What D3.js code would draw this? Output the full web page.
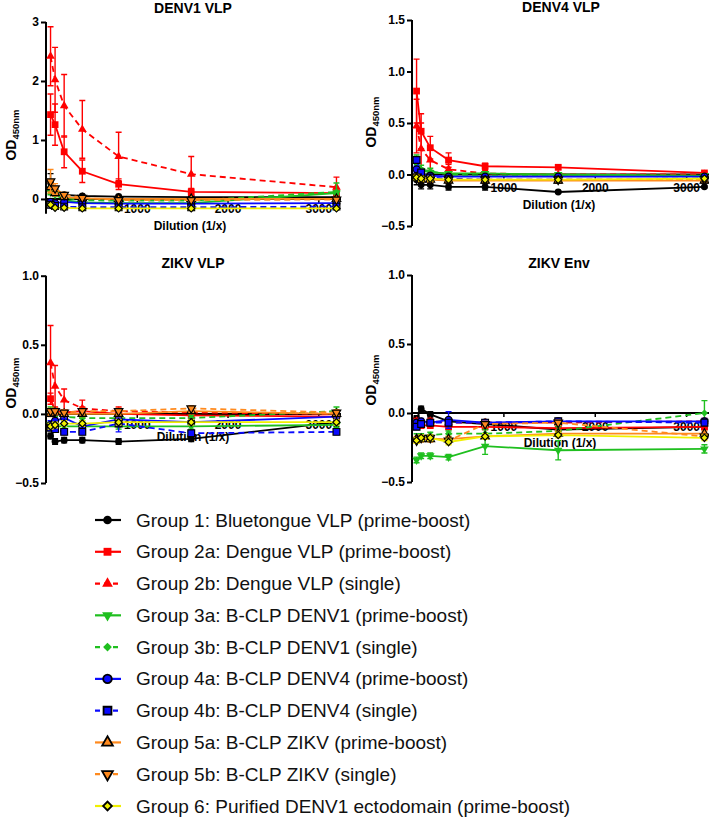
<!DOCTYPE html>
<html><head><meta charset="utf-8">
<script src="https://cdn.jsdelivr.net/npm/d3@7"></script>
<style>
body{margin:0;background:#fff}
svg{display:block}
text{font-family:"Liberation Sans",Arial,sans-serif}
</style>
</head><body>
<svg id="chart" width="709" height="818"></svg>
<script>
// ---------------- DATA ----------------
const dilutions = [50, 100, 200, 400, 800, 1600, 3200];
const groupNames = [
  "Group 1: Bluetongue VLP (prime-boost)",
  "Group 2a: Dengue VLP (prime-boost)",
  "Group 2b: Dengue VLP (single)",
  "Group 3a: B-CLP DENV1 (prime-boost)",
  "Group 3b: B-CLP DENV1 (single)",
  "Group 4a: B-CLP DENV4 (prime-boost)",
  "Group 4b: B-CLP DENV4 (single)",
  "Group 5a: B-CLP ZIKV (prime-boost)",
  "Group 5b: B-CLP ZIKV (single)",
  "Group 6: Purified DENV1 ectodomain (prime-boost)"
];
const groupColors = ["#000000","#ff0000","#ff0000","#1fbf1f","#1fbf1f","#0a0aff","#0a0aff","#ff8a1e","#ff8a1e","#f0f000"];
const groupDashed = [false,false,true,false,true,false,true,false,true,false];
const groupMarkers = ["circle","square","triangle","triangleDown","diamond","circle","square","triangle","triangleDown","diamond"];
const groupOutlined = [false,false,false,false,false,true,true,true,true,true];

const panelTitles = ["DENV1 VLP","DENV4 VLP","ZIKV VLP","ZIKV Env"];
const xTickValues = [1000, 2000, 3000];
const yTicksDenv1 = [0, 1, 2, 3];
const yTicksDenv4 = [-0.5, 0.0, 0.5, 1.0, 1.5];
const yTicksZikvVlp = [-0.5, 0.0, 0.5, 1.0];
const yTicksZikvEnv = [-0.5, 0.0, 0.5, 1.0];

// OD450 means per group (rows) at each dilution (columns)
const denv1Vlp = [
  [0.28, 0.15, 0.07, 0.05, 0.04, 0.03, 0.03],
  [1.43, 1.26, 0.80, 0.47, 0.25, 0.12, 0.10],
  [2.42, 2.02, 1.58, 1.18, 0.72, 0.42, 0.20],
  [0.12, 0.08, -0.02, -0.06, -0.07, -0.07, 0.10],
  [0.15, 0.12, 0.02, -0.02, -0.03, -0.03, 0.12],
  [-0.05, -0.07, -0.05, -0.07, -0.08, -0.08, -0.07],
  [-0.10, -0.12, -0.13, -0.14, -0.14, -0.14, -0.13],
  [0.20, 0.10, 0.03, 0.01, 0.00, 0.00, 0.00],
  [0.30, 0.18, 0.07, 0.02, -0.02, -0.02, -0.01],
  [-0.10, -0.15, -0.15, -0.16, -0.16, -0.16, -0.16]
];
const denv1VlpErr = [
  [0.15, 0.06, 0.03, 0.02, 0.02, 0.02, 0.02],
  [0.35, 0.35, 0.27, 0.19, 0.09, 0.06, 0.05],
  [0.50, 0.55, 0.53, 0.49, 0.41, 0.30, 0.17],
  [0.05, 0.04, 0.03, 0.02, 0.02, 0.02, 0.03],
  [0.06, 0.05, 0.03, 0.02, 0.03, 0.03, 0.15],
  [0.03, 0.03, 0.02, 0.02, 0.02, 0.02, 0.02],
  [0.03, 0.03, 0.03, 0.02, 0.03, 0.03, 0.03],
  [0.08, 0.05, 0.03, 0.02, 0.02, 0.02, 0.02],
  [0.20, 0.08, 0.04, 0.02, 0.02, 0.02, 0.02],
  [0.03, 0.02, 0.02, 0.02, 0.02, 0.02, 0.02]
];
const denv4Vlp = [
  [-0.05, -0.10, -0.10, -0.12, -0.12, -0.17, -0.12],
  [0.81, 0.42, 0.26, 0.14, 0.08, 0.07, 0.015],
  [0.47, 0.25, 0.14, 0.05, 0.01, 0.00, 0.00],
  [0.10, 0.04, 0.02, 0.01, 0.01, 0.00, -0.01],
  [0.12, 0.05, 0.03, 0.00, -0.01, -0.01, -0.02],
  [0.05, 0.00, -0.01, -0.02, -0.02, -0.02, -0.02],
  [0.14, 0.02, -0.03, -0.04, -0.05, -0.05, -0.05],
  [-0.03, -0.05, -0.05, -0.06, -0.06, -0.06, -0.06],
  [-0.02, -0.04, -0.05, -0.05, -0.05, -0.05, -0.05],
  [-0.03, -0.04, -0.04, -0.05, -0.05, -0.05, -0.04]
];
const denv4VlpErr = [
  [0.05, 0.04, 0.04, 0.03, 0.03, 0.01, 0.01],
  [0.31, 0.17, 0.11, 0.07, 0.03, 0.02, 0.01],
  [0.26, 0.25, 0.10, 0.05, 0.03, 0.01, 0.01],
  [0.04, 0.02, 0.02, 0.01, 0.01, 0.01, 0.01],
  [0.07, 0.04, 0.03, 0.02, 0.01, 0.01, 0.01],
  [0.03, 0.02, 0.02, 0.01, 0.01, 0.01, 0.01],
  [0.03, 0.03, 0.02, 0.02, 0.01, 0.01, 0.01],
  [0.02, 0.02, 0.02, 0.01, 0.01, 0.01, 0.01],
  [0.02, 0.02, 0.02, 0.01, 0.01, 0.01, 0.01],
  [0.02, 0.02, 0.02, 0.01, 0.01, 0.01, 0.01]
];
const zikvVlp = [
  [-0.16, -0.20, -0.19, -0.19, -0.20, -0.18, -0.06],
  [0.11, 0.02, 0.01, 0.02, 0.00, -0.01, -0.02],
  [0.37, 0.20, 0.10, 0.04, 0.02, 0.01, 0.00],
  [-0.08, -0.09, -0.09, -0.09, -0.09, -0.09, -0.08],
  [0.02, 0.00, -0.02, -0.03, -0.03, -0.03, 0.02],
  [-0.08, -0.05, -0.03, -0.09, -0.04, -0.06, -0.02],
  [-0.10, -0.11, -0.13, -0.13, -0.07, -0.14, -0.13],
  [0.00, 0.01, 0.00, 0.00, 0.00, 0.02, 0.00],
  [0.02, 0.02, 0.01, 0.02, 0.02, 0.04, 0.01],
  [-0.09, -0.08, -0.07, -0.07, -0.06, -0.06, -0.06]
];
const zikvVlpErr = [
  [0.02, 0.02, 0.02, 0.02, 0.02, 0.02, 0.03],
  [0.04, 0.02, 0.02, 0.03, 0.02, 0.02, 0.02],
  [0.27, 0.15, 0.08, 0.06, 0.03, 0.02, 0.02],
  [0.02, 0.02, 0.02, 0.02, 0.02, 0.02, 0.02],
  [0.03, 0.02, 0.02, 0.02, 0.02, 0.02, 0.03],
  [0.03, 0.02, 0.02, 0.02, 0.02, 0.02, 0.02],
  [0.02, 0.02, 0.02, 0.02, 0.06, 0.02, 0.02],
  [0.02, 0.02, 0.02, 0.02, 0.02, 0.02, 0.02],
  [0.02, 0.02, 0.02, 0.02, 0.02, 0.02, 0.02],
  [0.02, 0.02, 0.02, 0.02, 0.02, 0.02, 0.02]
];
const zikvEnv = [
  [-0.04, 0.03, -0.01, -0.06, -0.08, -0.12, -0.10],
  [-0.08, -0.09, -0.09, -0.10, -0.10, -0.11, -0.10],
  [-0.06, -0.07, -0.06, -0.07, -0.07, -0.07, -0.06],
  [-0.34, -0.31, -0.31, -0.32, -0.24, -0.27, -0.26],
  [-0.18, -0.17, -0.16, -0.15, -0.15, -0.13, 0.00],
  [-0.07, -0.06, -0.07, -0.05, -0.07, -0.06, -0.06],
  [-0.10, -0.08, -0.07, -0.07, -0.07, -0.06, -0.07],
  [-0.19, -0.19, -0.19, -0.19, -0.17, -0.15, -0.15],
  [-0.20, -0.18, -0.18, -0.20, -0.08, -0.07, -0.17],
  [-0.20, -0.18, -0.18, -0.21, -0.17, -0.16, -0.18]
];
const zikvEnvErr = [
  [0.02, 0.02, 0.02, 0.02, 0.02, 0.02, 0.02],
  [0.02, 0.02, 0.02, 0.02, 0.02, 0.02, 0.02],
  [0.02, 0.02, 0.02, 0.02, 0.02, 0.02, 0.02],
  [0.02, 0.02, 0.02, 0.02, 0.06, 0.07, 0.03],
  [0.03, 0.02, 0.02, 0.02, 0.03, 0.03, 0.09],
  [0.02, 0.02, 0.02, 0.06, 0.02, 0.02, 0.02],
  [0.02, 0.02, 0.02, 0.02, 0.02, 0.02, 0.02],
  [0.02, 0.02, 0.02, 0.02, 0.02, 0.02, 0.02],
  [0.02, 0.02, 0.02, 0.02, 0.02, 0.02, 0.02],
  [0.02, 0.02, 0.02, 0.02, 0.02, 0.02, 0.02]
];

// ---------------- LAYOUT ----------------
const panels = [
  {title: panelTitles[0], values: denv1Vlp, errs: denv1VlpErr, yTicks: yTicksDenv1, yDomain: [-0.25, 3],
   xRange: [46, 341], yRange: [213.7, 22], titleX: 193, titleY: 13, tickLblOff: 15, xLblX: 190, xLblY: 230, yLblX: 16, yLblY: 135, yFmt: d3.format("d")},
  {title: panelTitles[1], values: denv4Vlp, errs: denv4VlpErr, yTicks: yTicksDenv4, yDomain: [-0.5, 1.5],
   xRange: [412, 709], yRange: [226, 20], titleX: 561, titleY: 12, tickLblOff: 18, xLblX: 559, xLblY: 209, yLblX: 376, yLblY: 122, yFmt: d3.format(".1f")},
  {title: panelTitles[2], values: zikvVlp, errs: zikvVlpErr, yTicks: yTicksZikvVlp, yDomain: [-0.5, 1],
   xRange: [46, 341], yRange: [483, 275.7], titleX: 193, titleY: 268, tickLblOff: 16, xLblX: 193, xLblY: 441, yLblX: 16, yLblY: 383, yFmt: d3.format(".1f")},
  {title: panelTitles[3], values: zikvEnv, errs: zikvEnvErr, yTicks: yTicksZikvEnv, yDomain: [-0.5, 1],
   xRange: [412, 709], yRange: [482, 275], titleX: 559, titleY: 268, tickLblOff: 18, xLblX: 560, xLblY: 447, yLblX: 376, yLblY: 380, yFmt: d3.format(".1f")}
];

const svg = d3.select("#chart");

function symbolPath(kind, size) {
  const s = kind === "circle" ? d3.symbolCircle
          : (kind === "square" || kind === "diamond") ? d3.symbolSquare
          : d3.symbolTriangle;
  return d3.symbol().type(s).size(size)();
}
function symbolRotate(kind) {
  if (kind === "diamond") return 45;
  if (kind === "triangleDown") return 180;
  return 0;
}
const plotMarkerSize = {circle: 38, square: 46, diamond: 26, triangle: 32, triangleDown: 32};
const legendMarkerSize = {circle: 58, square: 62, diamond: 38, triangle: 50, triangleDown: 50};

panels.forEach(p => {
  const x = d3.scaleLinear().domain([0, 3250]).range(p.xRange);
  const y = d3.scaleLinear().domain(p.yDomain).range(p.yRange);
  const g = svg.append("g");

  g.append("text").attr("x", p.titleX).attr("y", p.titleY).attr("text-anchor", "middle")
    .attr("font-size", 14).attr("font-weight", "bold").text(p.title);

  const yAxis = d3.axisLeft(y).tickValues(p.yTicks).tickFormat(p.yFmt).tickSize(5).tickPadding(2);
  const ya = g.append("g").attr("transform", `translate(${p.xRange[0]},0)`).call(yAxis);
  ya.select(".domain").attr("stroke", "#000").attr("stroke-width", 2).attr("d", `M0,${p.yRange[0]}V${p.yRange[1]}`);
  ya.selectAll(".tick line").attr("stroke", "#000").attr("stroke-width", 2);
  ya.selectAll(".tick text").attr("font-size", 12).attr("font-weight", "bold").attr("fill", "#000")
    .attr("font-family", "'Liberation Sans',Arial,sans-serif");

  const xAxis = d3.axisBottom(x).tickValues(xTickValues).tickFormat(d3.format("d")).tickSize(4).tickPadding(p.tickLblOff - 13);
  const xa = g.append("g").attr("transform", `translate(0,${y(0)})`).call(xAxis);
  xa.select(".domain").attr("stroke", "#000").attr("stroke-width", 2).attr("d", `M${p.xRange[0]},0H${p.xRange[1]}`);
  xa.selectAll(".tick line").attr("stroke", "#000").attr("stroke-width", 1.5);
  xa.selectAll(".tick text").attr("font-size", 12).attr("font-weight", "bold").attr("fill", "#000")
    .attr("font-family", "'Liberation Sans',Arial,sans-serif");

  g.append("text").attr("x", p.xLblX).attr("y", p.xLblY).attr("text-anchor", "middle")
    .attr("font-size", 12).attr("font-weight", "bold").text("Dilution (1/x)");

  const yl = g.append("text").attr("transform", `translate(${p.yLblX},${p.yLblY}) rotate(-90)`)
    .attr("text-anchor", "middle").attr("font-weight", "bold").attr("font-size", 14);
  yl.append("tspan").text("OD");
  yl.append("tspan").attr("font-size", 9.5).attr("dy", 3).text("450nm");

  const line = d3.line().x((d, i) => x(dilutions[i])).y(d => y(d));
  p.values.forEach((vals, gi) => {
    const col = groupColors[gi];
    const sg = g.append("g");
    sg.append("path").attr("d", line(vals)).attr("fill", "none").attr("stroke", col)
      .attr("stroke-width", 1.8).attr("stroke-dasharray", groupDashed[gi] ? "6,4" : null);
    vals.forEach((v, i) => {
      const e = p.errs[gi][i];
      const cx = x(dilutions[i]);
      const y1 = y(v + e), y2 = y(v - e);
      sg.append("path").attr("d", `M${cx},${y1}V${y2}M${cx-3},${y1}H${cx+3}M${cx-3},${y2}H${cx+3}`)
        .attr("stroke", col).attr("stroke-width", 1.4).attr("fill", "none");
    });
    const kind = groupMarkers[gi];
    vals.forEach((v, i) => {
      sg.append("path").attr("d", symbolPath(kind, plotMarkerSize[kind]))
        .attr("transform", `translate(${x(dilutions[i])},${y(v)}) rotate(${symbolRotate(kind)})`)
        .attr("fill", col)
        .attr("stroke", groupOutlined[gi] ? "#000" : "none")
        .attr("stroke-width", 1.2);
    });
  });
});

// ---------------- LEGEND ----------------
const ly = d3.scaleLinear().domain([0, groupNames.length - 1]).range([520, 806]);
const lg = svg.append("g");
groupNames.forEach((name, i) => {
  const yy = ly(i);
  const col = groupColors[i];
  lg.append("line").attr("x1", 95).attr("x2", 121).attr("y1", yy).attr("y2", yy)
    .attr("stroke", col).attr("stroke-width", 2.2).attr("stroke-dasharray", groupDashed[i] ? "5,4" : null);
  const kind = groupMarkers[i];
  lg.append("path").attr("d", symbolPath(kind, legendMarkerSize[kind]))
    .attr("transform", `translate(107.5,${yy}) rotate(${symbolRotate(kind)})`)
    .attr("fill", col).attr("stroke", groupOutlined[i] ? "#000" : "none").attr("stroke-width", 1.8);
  lg.append("text").attr("x", 136).attr("y", yy + 6.5).attr("font-size", 19).attr("fill", "#111")
    .text(name);
});
</script>
</body></html>
